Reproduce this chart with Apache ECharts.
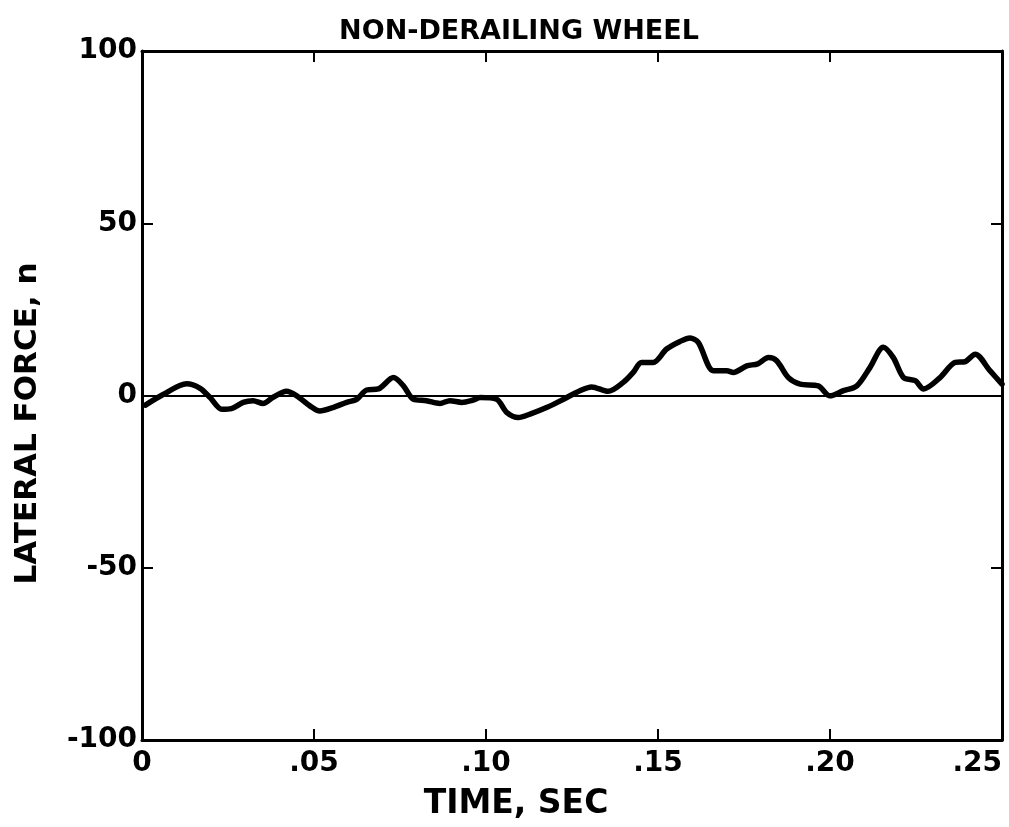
<!DOCTYPE html>
<html>
<head>
<meta charset="utf-8">
<script src="https://cdn.jsdelivr.net/npm/echarts@6/dist/echarts.min.js"></script>
<style>html,body{margin:0;padding:0;background:#fff}#c{width:1009px;height:827px}</style>
</head>
<body>
<div id="c"></div>
<script>
// Data
const timeSec = [0.001,0.006,0.013,0.0169,0.0198,0.0232,0.026,0.0294,0.0323,0.0352,0.038,0.042,0.045,0.0488,0.0517,0.0555,0.0595,0.0624,0.0653,0.0687,0.0731,0.076,0.0789,0.0827,0.0866,0.0895,0.093,0.0963,0.0983,0.1031,0.106,0.1094,0.1128,0.1176,0.1225,0.1273,0.1307,0.1355,0.1399,0.1428,0.1452,0.1486,0.1525,0.1564,0.1593,0.1617,0.1661,0.17,0.1719,0.1758,0.179,0.1821,0.1845,0.1879,0.1913,0.1966,0.2,0.2039,0.2078,0.2116,0.2155,0.2184,0.2214,0.2248,0.2272,0.232,0.2364,0.2392,0.2422,0.2465,0.25];
const lateralForce = [-2.8,0.2,3.4,2.1,-0.6,-4.0,-3.8,-2.0,-1.5,-2.3,-0.6,1.2,-0.1,-3.0,-4.5,-3.5,-2.0,-1.1,1.6,1.9,5.2,2.8,-1.1,-1.5,-2.3,-1.5,-2.0,-1.3,-0.6,-1.1,-4.9,-6.4,-5.4,-3.5,-1.1,1.4,2.5,1.2,3.8,6.7,9.6,9.6,13.5,15.7,16.7,15.4,7.2,7.2,6.7,8.6,9.2,11.0,10.1,5.2,3.3,2.8,-0.1,1.4,2.8,8.1,14.0,11.0,5.2,4.3,1.9,5.2,9.6,9.8,12.0,7.2,3.3];
const xTickLabels = ['0','.05','.10','.15','.20','.25'];
const yTickLabels = ['-100','-50','0','50','100'];
const xTickValues = [0,0.05,0.10,0.15,0.20,0.25];
const yTickValues = [-100,-50,0,50,100];

const FONT = 'DejaVu Sans';
const chart = echarts.init(document.getElementById('c'), null, {renderer:'canvas'});
function lab(vals, labels){ return v => { for (let i=0;i<vals.length;i++){ if (Math.abs(vals[i]-v)<1e-9) return labels[i]; } return ''; }; }
const axisLine = {show:true, onZero:false, lineStyle:{color:'#000', width:3}};
const tick = {show:true, inside:true, length:11, lineStyle:{color:'#000', width:2}};
chart.setOption({
  backgroundColor:'#fff',
  animation:false,
  title:{text:'NON-DERAILING WHEEL', left:514, top:13, textAlign:'center',
    textStyle:{fontFamily:FONT, fontSize:27, fontWeight:'bold', color:'#000'}},
  grid:{left:142, right:7, top:51, bottom:87, containLabel:false, outerBoundsMode:'none'},
  xAxis:[
    {type:'value', min:0, max:0.25, interval:0.05, position:'bottom',
     axisLine:axisLine, axisTick:tick, splitLine:{show:false},
     axisLabel:{formatter:lab(xTickValues,xTickLabels), margin:10, fontFamily:FONT, fontSize:28, fontWeight:'bold', color:'#000', alignMaxLabel:'right'},
     name:'TIME, SEC', nameLocation:'middle', nameGap:48,
     nameTextStyle:{fontFamily:FONT, fontSize:33, fontWeight:'bold', color:'#000', padding:[0,112,0,0]}},
    {type:'value', min:0, max:0.25, interval:0.05, position:'top',
     axisLine:axisLine, axisTick:tick, splitLine:{show:false}, axisLabel:{show:false}}
  ],
  yAxis:[
    {type:'value', min:-100, max:100, interval:50, position:'left',
     axisLine:axisLine, axisTick:tick, splitLine:{show:false},
     axisLabel:{formatter:lab(yTickValues,yTickLabels), margin:5, fontFamily:FONT, fontSize:28, fontWeight:'bold', color:'#000'},
     name:'LATERAL FORCE, n', nameLocation:'middle', nameGap:99,
     nameTextStyle:{fontFamily:FONT, fontSize:31, fontWeight:'bold', color:'#000', padding:[0,56,0,0]}},
    {type:'value', min:-100, max:100, interval:50, position:'right',
     axisLine:axisLine, axisTick:tick, splitLine:{show:false}, axisLabel:{show:false}}
  ],
  series:[{
    type:'line', xAxisIndex:0, yAxisIndex:0,
    data: timeSec.map((t,i)=>[t, lateralForce[i]]),
    smooth:0.3, showSymbol:false, symbol:'none',
    lineStyle:{color:'#000', width:5.5, cap:'round', join:'round'},
    markLine:{silent:true, symbol:['none','none'], label:{show:false},
      lineStyle:{color:'#000', width:2, type:'solid'}, data:[{yAxis:0}]}
  }]
});
</script>
</body>
</html>
